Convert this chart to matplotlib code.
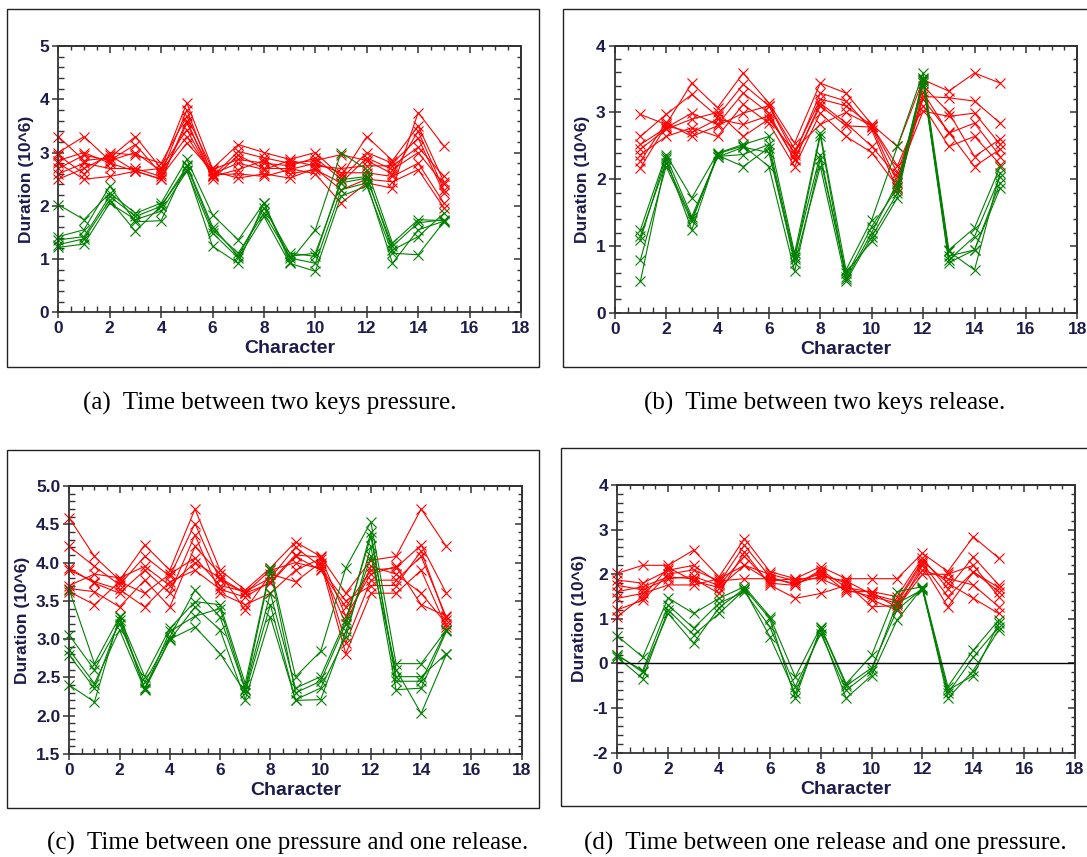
import matplotlib
matplotlib.use("Agg")
import matplotlib.pyplot as plt
from matplotlib.ticker import MultipleLocator
from matplotlib.patches import Rectangle
import numpy as np

# ---------------- data ----------------
chars_full = list(range(0, 16))
chars_b = list(range(1, 16))

a_red = [
    [3.30, 2.85, 2.90, 3.30, 2.70, 3.93, 2.70, 3.15, 3.00, 2.87, 3.00, 2.55, 3.30, 2.85, 3.50, 2.45],
    [3.00, 3.30, 2.85, 3.15, 2.60, 3.80, 2.55, 3.02, 2.90, 2.80, 2.85, 2.96, 2.85, 2.60, 3.40, 2.30],
    [2.95, 2.60, 3.00, 2.95, 2.80, 3.68, 2.68, 2.87, 2.80, 2.75, 2.90, 2.50, 3.00, 2.80, 3.27, 2.24],
    [2.85, 3.00, 2.80, 2.65, 2.50, 3.55, 2.60, 2.80, 2.68, 2.85, 2.75, 2.70, 2.75, 2.75, 3.10, 2.55],
    [2.80, 2.50, 2.55, 2.65, 2.70, 3.43, 2.55, 2.68, 2.85, 2.60, 2.68, 2.43, 2.90, 2.68, 3.00, 2.40],
    [2.70, 2.95, 2.85, 3.00, 2.65, 3.30, 2.58, 2.60, 2.55, 2.68, 2.80, 2.62, 2.62, 2.55, 2.80, 2.05],
    [2.60, 2.80, 2.70, 2.70, 2.55, 3.18, 2.65, 2.52, 2.60, 2.52, 2.70, 2.30, 2.50, 2.45, 2.68, 1.96],
    [2.50, 2.70, 2.95, 2.65, 2.50, 3.60, 2.50, 2.95, 2.70, 2.70, 2.60, 2.05, 2.43, 2.33, 3.75, 3.12],
]
a_green = [
    [2.02, 1.74, 2.24, 1.86, 2.05, 2.87, 1.83, 1.36, 2.05, 0.95, 1.55, 3.00, 2.68, 1.30, 1.74, 1.72],
    [1.42, 1.55, 2.37, 1.70, 1.72, 2.77, 1.61, 1.05, 1.96, 1.11, 1.05, 2.49, 2.55, 1.17, 1.42, 1.86],
    [1.36, 1.42, 2.18, 1.80, 1.99, 2.74, 1.55, 1.11, 1.86, 1.05, 1.11, 2.43, 2.52, 1.24, 1.68, 1.74],
    [1.27, 1.38, 2.11, 1.52, 2.00, 2.68, 1.24, 0.92, 2.05, 1.02, 0.92, 2.30, 2.43, 0.92, 1.55, 1.71],
    [1.22, 1.28, 2.05, 1.74, 1.90, 2.65, 1.49, 1.02, 1.80, 0.92, 0.77, 2.18, 2.37, 1.11, 1.08, 1.70],
]

b_red = [
    [2.97, 2.82, 3.44, 3.07, 3.59, 3.14, 2.54, 3.44, 3.29, 2.82, 2.49, 3.49, 3.32, 3.59, 3.44],
    [2.64, 2.97, 3.27, 2.94, 3.42, 3.10, 2.37, 3.29, 3.17, 2.74, 1.84, 3.24, 3.22, 3.17, 2.84],
    [2.52, 2.77, 2.99, 2.82, 3.29, 2.99, 2.29, 3.14, 2.84, 2.49, 2.04, 3.02, 2.94, 2.99, 2.52],
    [2.37, 2.64, 2.77, 2.64, 3.12, 2.84, 2.19, 2.99, 2.64, 2.40, 1.89, 3.30, 2.69, 2.84, 2.34],
    [2.27, 2.85, 2.64, 2.80, 2.99, 3.10, 2.45, 2.82, 3.00, 2.80, 2.20, 3.10, 2.49, 2.64, 2.22],
    [2.17, 2.80, 2.70, 2.90, 2.82, 2.95, 2.30, 3.10, 2.80, 2.78, 1.95, 3.40, 3.00, 2.34, 2.60],
    [2.45, 2.75, 2.90, 3.00, 2.64, 2.90, 2.40, 3.20, 3.10, 2.80, 2.10, 3.20, 2.70, 2.19, 2.45],
]
b_green = [
    [1.24, 2.37, 1.72, 2.39, 2.52, 2.64, 0.89, 2.69, 0.64, 1.39, 2.49, 3.59, 0.94, 1.27, 2.19],
    [1.09, 2.34, 1.44, 2.34, 2.37, 2.52, 0.84, 2.37, 0.54, 1.29, 1.87, 3.52, 0.79, 1.14, 2.04],
    [0.79, 2.19, 1.37, 2.36, 2.19, 2.47, 0.74, 2.19, 0.47, 1.14, 1.79, 3.44, 0.85, 0.94, 1.87],
    [0.47, 2.30, 1.24, 2.38, 2.50, 2.19, 0.62, 2.30, 0.60, 1.07, 1.72, 3.50, 0.92, 0.64, 2.10],
    [1.15, 2.25, 1.40, 2.33, 2.48, 2.40, 0.80, 2.65, 0.50, 1.20, 1.95, 3.47, 0.75, 0.94, 1.95],
]

c_red = [
    [4.58, 4.08, 3.77, 4.23, 3.90, 4.70, 3.90, 3.64, 3.93, 4.27, 4.08, 3.60, 4.03, 4.08, 4.70, 4.21],
    [4.21, 3.95, 3.71, 4.08, 3.82, 4.51, 3.77, 3.60, 3.73, 4.08, 3.90, 3.42, 3.90, 3.93, 4.23, 3.60],
    [3.93, 3.73, 3.60, 3.90, 3.60, 4.36, 3.60, 3.45, 3.60, 3.90, 4.05, 2.95, 3.77, 3.77, 4.08, 3.29],
    [3.66, 3.62, 3.42, 3.77, 3.42, 4.21, 3.85, 3.38, 3.85, 3.75, 4.00, 2.81, 3.60, 3.60, 3.90, 3.16],
    [3.62, 3.45, 3.75, 3.60, 3.85, 4.06, 3.70, 3.62, 3.80, 4.20, 3.95, 3.20, 3.95, 3.85, 3.60, 3.20],
    [3.90, 3.75, 3.65, 3.42, 3.75, 3.90, 3.65, 3.55, 3.75, 4.10, 4.07, 3.30, 3.85, 3.95, 3.45, 3.30],
    [3.70, 3.85, 3.80, 3.95, 3.70, 4.00, 3.80, 3.60, 3.90, 4.00, 3.92, 3.50, 3.70, 3.70, 4.15, 3.25],
]
c_green = [
    [3.64, 2.68, 3.29, 2.51, 3.14, 3.49, 3.45, 2.42, 3.93, 2.51, 2.84, 3.93, 4.53, 2.68, 2.68, 3.12],
    [3.05, 2.60, 3.20, 2.44, 3.03, 3.64, 3.29, 2.34, 3.60, 2.36, 2.51, 3.25, 4.34, 2.51, 2.51, 2.81],
    [2.86, 2.42, 3.12, 2.34, 2.99, 3.42, 3.12, 2.21, 3.29, 2.21, 2.36, 3.03, 4.21, 2.34, 2.36, 3.10],
    [2.79, 2.36, 3.25, 2.36, 3.00, 3.16, 2.81, 2.30, 3.45, 2.20, 2.21, 3.10, 4.08, 2.60, 2.03, 2.80],
    [2.40, 2.18, 3.30, 2.35, 3.10, 3.30, 3.40, 2.35, 3.90, 2.30, 2.45, 3.20, 4.40, 2.45, 2.45, 3.12],
]

d_red = [
    [2.02, 2.20, 2.20, 2.54, 1.94, 2.80, 2.06, 1.90, 2.17, 1.90, 1.90, 1.90, 2.47, 2.06, 2.84, 2.36],
    [1.87, 1.80, 2.09, 2.20, 1.80, 2.65, 1.94, 1.76, 2.06, 1.61, 1.61, 1.50, 2.36, 1.68, 2.39, 1.76],
    [1.61, 1.72, 1.94, 1.90, 1.57, 2.50, 1.76, 1.46, 1.57, 1.75, 1.42, 1.20, 2.20, 1.27, 2.06, 1.61],
    [1.46, 1.57, 1.76, 1.76, 1.90, 2.20, 2.00, 1.85, 2.00, 1.80, 1.27, 1.30, 2.09, 1.90, 1.76, 1.27],
    [1.20, 1.42, 2.00, 2.10, 1.85, 1.90, 1.90, 1.80, 1.95, 1.85, 1.55, 1.40, 2.30, 1.80, 1.46, 1.12],
    [1.75, 1.65, 1.90, 1.95, 1.75, 2.40, 1.80, 1.75, 2.10, 1.70, 1.60, 1.25, 2.00, 2.00, 2.20, 1.50],
    [1.05, 1.50, 2.15, 1.85, 1.70, 2.20, 1.85, 1.90, 1.90, 1.65, 1.50, 1.35, 2.25, 1.50, 2.05, 1.70],
]
d_green = [
    [0.62, 0.14, 1.47, 1.12, 1.46, 1.72, 1.05, -0.30, 0.82, -0.45, 0.18, 1.61, 1.72, -0.52, 0.30, 0.97],
    [0.18, -0.16, 1.31, 0.79, 1.35, 1.61, 0.82, -0.52, 0.67, -0.60, -0.16, 1.35, 1.65, -0.67, 0.14, 0.82],
    [0.14, -0.34, 1.20, 0.64, 1.12, 1.65, 0.60, -0.67, 0.75, -0.78, -0.27, 0.97, 1.70, -0.78, -0.16, 0.75],
    [0.20, -0.20, 1.12, 0.45, 1.25, 1.68, 1.00, -0.78, 0.80, -0.50, -0.10, 1.20, 1.68, -0.60, -0.27, 0.90],
]

captions = [
    "(a)  Time between two keys pressure.",
    "(b)  Time between two keys release.",
    "(c)  Time between one pressure and one release.",
    "(d)  Time between one release and one pressure.",
]

# ---------------- figure ----------------
W, H = 1087, 857
fig = plt.figure(figsize=(W / 100, H / 100), dpi=100)
fig.patch.set_facecolor("white")

RED = "#ff0000"
GREEN = "#008000"
TICKC = "#1c1c4c"


def fx(px):
    return px / W


def fy(py):
    return 1 - py / H


def axes_px(l, r, t, b):
    return [fx(l), fy(b), fx(r) - fx(l), fy(t) - fy(b)]


# panel frames
frames = [(7, 539, 9, 367), (563, 1100, 9, 367), (7, 539, 450, 808), (561, 1100, 448, 806)]
for (l, r, t, b) in frames:
    fig.patches.append(Rectangle((fx(l), fy(b)), fx(r) - fx(l), fy(t) - fy(b),
                                 transform=fig.transFigure, fill=False,
                                 edgecolor="#222222", linewidth=1.0))

panels = [
    dict(pos=axes_px(58.3, 521, 46, 312.3), x=chars_full, red=a_red, green=a_green,
         ylim=(0, 5), ymaj=1, ymin=0.2, fmt="{:.0f}", zero=False),
    dict(pos=axes_px(614.7, 1077.3, 45.7, 312.7), x=chars_b, red=b_red, green=b_green,
         ylim=(0, 4), ymaj=1, ymin=0.2, fmt="{:.0f}", zero=False),
    dict(pos=axes_px(69.3, 521.7, 486, 754), x=chars_full, red=c_red, green=c_green,
         ylim=(1.5, 5.0), ymaj=0.5, ymin=0.1, fmt="{:.1f}", zero=False),
    dict(pos=axes_px(617.3, 1075, 485, 752.7), x=chars_full, red=d_red, green=d_green,
         ylim=(-2, 4), ymaj=1, ymin=0.2, fmt="{:.0f}", zero=True),
]

for p in panels:
    ax = fig.add_axes(p["pos"])
    for s in p["red"]:
        ax.plot(p["x"], s, color=RED, lw=0.8, marker="x", ms=6.5, mew=0.8, clip_on=False)
    for s in p["green"]:
        ax.plot(p["x"], s, color=GREEN, lw=0.8, marker="x", ms=6.5, mew=0.8, clip_on=False)
    if p["zero"]:
        ax.axhline(0, color="black", lw=1.0)
    ax.set_xlim(0, 18)
    ax.set_ylim(*p["ylim"])
    ax.xaxis.set_major_locator(MultipleLocator(2))
    ax.xaxis.set_minor_locator(MultipleLocator(0.5))
    ax.yaxis.set_major_locator(MultipleLocator(p["ymaj"]))
    ax.yaxis.set_minor_locator(MultipleLocator(p["ymin"]))
    yt = np.arange(p["ylim"][0], p["ylim"][1] + 1e-9, p["ymaj"])
    ax.set_yticks(yt)
    ax.set_yticklabels([p["fmt"].format(v) for v in yt])
    ax.tick_params(which="major", direction="inout", length=9, width=1.1, color="#333333",
                   labelsize=12.5, labelcolor=TICKC, pad=2)
    ax.tick_params(which="minor", direction="in", length=4, width=1.0, color="#333333")
    for lab in ax.get_xticklabels() + ax.get_yticklabels():
        lab.set_fontweight("bold")
        lab.set_fontfamily("Liberation Sans")
    # inward ticks on top and right
    sx = ax.secondary_xaxis("top")
    sx.xaxis.set_major_locator(MultipleLocator(2))
    sx.xaxis.set_minor_locator(MultipleLocator(0.5))
    sx.tick_params(which="major", direction="in", length=5, width=1.1, color="#333333", labeltop=False)
    sx.tick_params(which="minor", direction="in", length=3, width=1.0, color="#333333")
    sy = ax.secondary_yaxis("right")
    sy.yaxis.set_major_locator(MultipleLocator(p["ymaj"]))
    sy.yaxis.set_minor_locator(MultipleLocator(p["ymin"]))
    sy.tick_params(which="major", direction="in", length=5, width=1.1, color="#333333", labelright=False)
    sy.tick_params(which="minor", direction="in", length=3, width=1.0, color="#333333")
    for sp in list(ax.spines.values()) + [sx.spines["top"], sy.spines["right"]]:
        sp.set_linewidth(1.3)
        sp.set_color("#333333")
    ax.set_xlabel("Character", fontsize=14, fontweight="bold", family="Liberation Sans",
                  color=TICKC, labelpad=3)
    ax.set_ylabel("Duration (10^6)", fontsize=12.5, fontweight="bold", family="Liberation Sans",
                  color=TICKC, labelpad=4)

# captions
cap_pos = [(270, 403), (825, 403), (288, 843), (825, 843)]
for (cx, cy), t in zip(cap_pos, captions):
    fig.text(fx(cx), fy(cy), t, ha="center", va="center", fontsize=18,
             family="Liberation Serif", color="black")

fig.savefig("out.png", dpi=100)
